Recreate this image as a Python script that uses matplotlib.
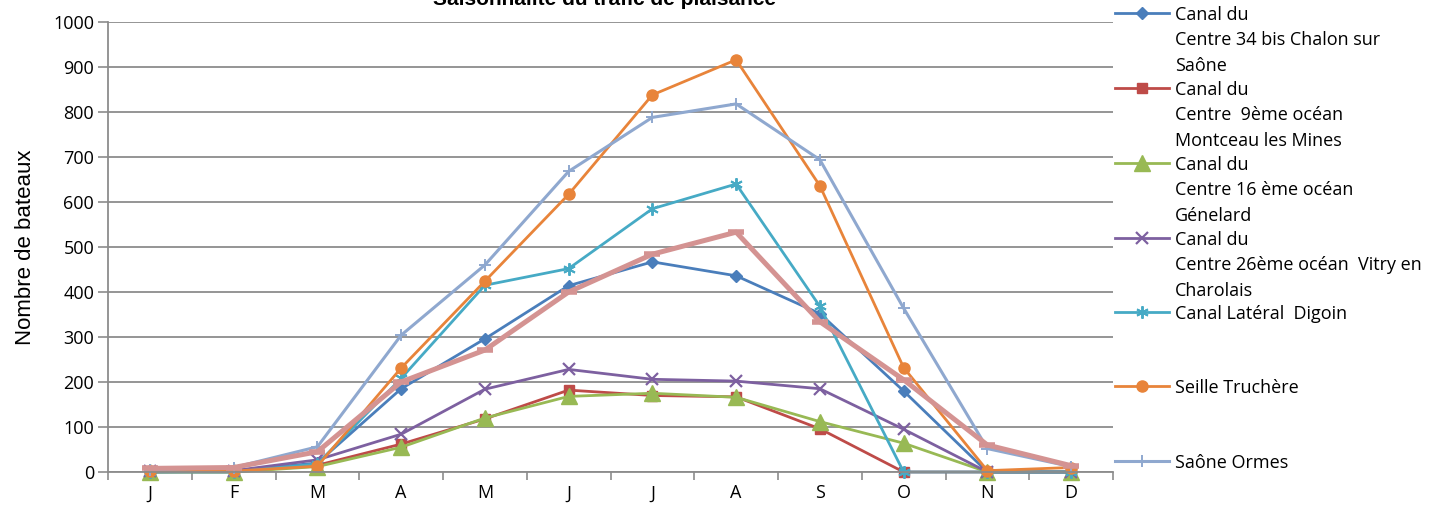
#monthly pleasure-boat traffic at each lock, excel-style line chart with a side legend.
#legend is drawn by hand in its own axes so wrapped labels hang from the handle like in excel.

import matplotlib
matplotlib.use("Agg")
import matplotlib.pyplot as plt

W, H = 1439, 507

months = ["J", "F", "M", "A", "M", "J", "J", "A", "S", "O", "N", "D"]

chalon = [0, 2, 20, 185, 296, 414, 467, 436, 352, 180, 0, 0]
montceau = [0, 0, 15, 62, 118, 182, 170, 167, 96, 0, 0, 0]
genelard = [0, 0, 12, 55, 120, 168, 175, 166, 112, 64, 0, 0]
vitry = [2, 3, 27, 84, 184, 228, 206, 202, 185, 95, 0, 0]
digoin = [0, 0, 18, 208, 415, 452, 585, 640, 368, 0, 0, 0]
seille = [3, 2, 13, 231, 424, 617, 838, 916, 636, 232, 3, 10]
ormes = [5, 10, 56, 304, 460, 668, 788, 818, 694, 364, 52, 12]
extra = [8, 10, 45, 200, 271, 400, 484, 533, 334, 205, 60, 14]

labels = [
    "Canal du\nCentre 34 bis Chalon sur\nSaône",
    "Canal du\nCentre  9ème océan\nMontceau les Mines",
    "Canal du\nCentre 16 ème océan\nGénelard",
    "Canal du\nCentre 26ème océan  Vitry en\nCharolais",
    "Canal Latéral  Digoin",
    "Seille Truchère",
    "Saône Ormes",
]

series = [chalon, montceau, genelard, vitry, digoin, seille, ormes, extra]
colors = ["#4A7EBB", "#BE4B48", "#98B954", "#7D60A0", "#46AAC5", "#E8843A", "#8FA8CF", "#D49392"]
styles = [
    dict(marker="D", ms=6),
    dict(marker="s", ms=7),
    dict(marker="^", ms=11),
    dict(marker="x", ms=8, mew=1.6),
    dict(marker=(6, 2, 0), ms=9, mew=1.4),
    dict(marker="o", ms=8),
    dict(marker="+", ms=9, mew=1.4),
    dict(marker="_", ms=12, mew=4),
]
widths = [2.0, 2.0, 2.0, 2.0, 2.0, 2.0, 2.2, 3.6]

plt.rcParams["font.family"] = ["Open Sans", "DejaVu Sans"]
grid_col = "#8C8C8C"

fig = plt.figure(figsize=(W / 100, H / 100), dpi=100)
ax = fig.add_axes([108 / W, 35 / H, (1113 - 108) / W, 450 / H])

x = list(range(len(months)))
for ys, c, st, lw in zip(series, colors, styles, widths):
    ax.plot(x, ys, color=c, lw=lw, mec=c, mfc=c, **st, clip_on=False)

ax.set_xlim(-0.5, len(months) - 0.5)
ax.set_ylim(0, 1000)
ax.set_yticks(range(0, 1001, 100))
ax.set_xticks(x)
ax.set_xticklabels(months)
ax.set_xticks([i + 0.5 for i in range(-1, len(months))], minor=True)
ax.tick_params(axis="x", which="major", length=0, pad=9, labelsize=13)
ax.tick_params(axis="x", which="minor", length=6, width=1.2, color=grid_col)
ax.tick_params(axis="y", length=7, width=1.2, color=grid_col, labelsize=13, pad=3)
ax.grid(axis="y", color=grid_col, lw=1.3)
ax.set_axisbelow(True)
for side in ["top", "right"]:
    ax.spines[side].set_visible(False)
for side in ["left", "bottom"]:
    ax.spines[side].set_color(grid_col)
    ax.spines[side].set_linewidth(1.3)
ax.set_ylabel("Nombre de bateaux", fontsize=16, family="Liberation Sans", labelpad=12)

# title sits mostly off the top edge, as in the source image
fig.text(605 / W, 1 - 5 / H, "Saisonnalité du trafic de plaisance", ha="center", va="baseline",
         fontsize=15, fontweight="bold", family="Liberation Sans")

# hand-made legend, pixel coords
leg = fig.add_axes([1113 / W, 0, (W - 1113) / W, 1])
leg.set_xlim(0, W - 1113)
leg.set_ylim(H, 0)
leg.axis("off")
leg_y = [13, 88, 163, 238, 312, 386, 461]
for ly, lab, c, st, lw in zip(leg_y, labels, colors, styles, widths):
    leg.plot([2, 56], [ly, ly], color=c, lw=lw, clip_on=False)
    leg.plot([29], [ly], color=c, lw=0, mec=c, mfc=c, clip_on=False, **st)
    leg.text(62, ly - 7, lab, ha="left", va="top", fontsize=13, linespacing=1.52)

fig.savefig("out.png", dpi=100)
